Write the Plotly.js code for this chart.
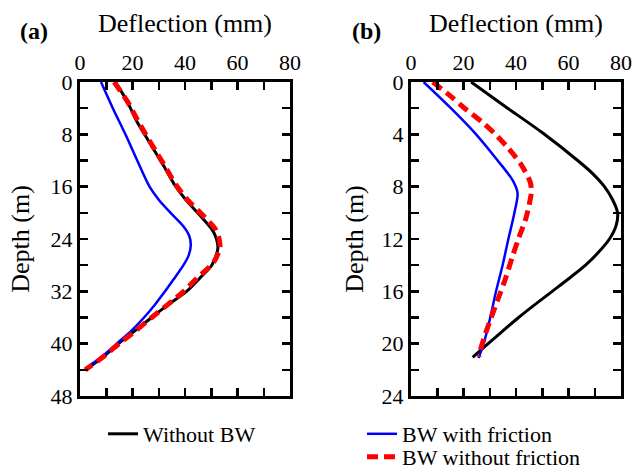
<!DOCTYPE html>
<html>
<head>
<meta charset="utf-8">
<script src="https://cdn.plot.ly/plotly-3.0.1.min.js"></script>
<style>html,body{margin:0;padding:0;background:#fff;}#chart{width:632px;height:471px;}</style>
</head>
<body>
<div id="chart"></div>
<script>
// Panel (a)
var depthA_noBW = [0, 3, 6, 8, 10.6, 13.1, 15.7, 18, 20.3, 22.5, 24, 25.5, 28, 29.7, 32, 34, 36, 38, 40, 42, 44];
var defA_noBW   = [13.5, 18, 21.6, 24.6, 28.5, 32.3, 36, 40.3, 45.5, 50.2, 52, 52.5, 50.2, 46.3, 40.6, 33.7, 27.3, 21, 14.6, 8.9, 2];
var depthA_fric = [0, 4, 8, 12, 16, 18, 20, 22, 23.5, 25, 26.5, 28, 30.2, 32, 34, 36, 38, 40, 42, 43.5, 44];
var defA_fric   = [8, 12.5, 17.3, 21.8, 26.5, 30, 34.5, 39.3, 41.6, 42.2, 41.4, 39.4, 35.6, 32.4, 28.6, 24.4, 19.6, 14, 8.3, 3.2, 1.9];
var depthA_noFric = [0, 3, 5.8, 8, 10.6, 13.1, 15.7, 18, 20.3, 22.5, 24, 25.3, 27.5, 30, 32, 34, 36, 37.9, 39.9, 41.8, 43.5, 44];
var defA_noFric   = [13, 18.1, 21.9, 25, 28.9, 32.7, 36.5, 40.9, 46.6, 51.6, 53, 53.3, 51, 44.5, 39.5, 33.5, 27.3, 21.6, 15.2, 9.5, 3.8, 2];
// Panel (b)
var depthB_noBW = [0, 2, 3.9, 6, 7, 8, 9, 10, 11, 12, 13, 14, 15, 16, 17, 18, 19, 20, 20.7, 21.05];
var defB_noBW   = [22.9, 36.8, 50.2, 63.5, 69.2, 73.7, 76.8, 78.7, 78.1, 75.6, 71.5, 66.5, 60.3, 53.8, 47.3, 41, 35.1, 29.4, 25.4, 23.5];
var depthB_fric = [0, 2, 4, 6, 7.5, 8.5, 10, 12, 14, 16, 18, 20, 21.1];
var defB_fric   = [4.8, 15.2, 24.8, 33, 38.7, 40.6, 39.4, 37.1, 34.9, 32.4, 30.2, 27.7, 25.7];
var depthB_noFric = [0, 1.1, 2.1, 3, 3.9, 5, 6.3, 7.7, 8.5, 9.1, 10.4, 12, 13.3, 14.9, 16.3, 17.7, 19.1, 20.5, 21];
var defB_noFric   = [8.3, 15.2, 21, 26.7, 31.7, 36.8, 41.9, 45.5, 45.8, 45.3, 43.8, 40.9, 38.7, 36.2, 33.7, 31.1, 28.6, 26.4, 25.8];

var names = ['Without BW', 'BW with friction', 'BW without friction'];
var xTitle = 'Deflection (mm)';
var yTitle = 'Depth (m)';
var panelLabels = ['(a)', '(b)'];
var xTicksA = [0, 20, 40, 60, 80];
var yTicksA = [0, 8, 16, 24, 32, 40, 48];
var yTicksB = [0, 4, 8, 12, 16, 20, 24];

var FONT = '"Liberation Serif", "Times New Roman", Times, serif';
var sBlack = {color: '#000000', width: 3, shape: 'spline', smoothing: 0.8};
var sBlue = {color: '#0000ff', width: 2.5, shape: 'spline', smoothing: 0.8};
var sRed = {color: '#ff0000', width: 5, dash: '11px,6px', shape: 'spline', smoothing: 0.8};

var traces = [
  {x: defA_noBW, y: depthA_noBW, xaxis: 'x', yaxis: 'y', mode: 'lines', line: sBlack, name: names[0], legend: 'legend'},
  {x: defA_fric, y: depthA_fric, xaxis: 'x', yaxis: 'y', mode: 'lines', line: sBlue, name: names[1], legend: 'legend2'},
  {x: defA_noFric, y: depthA_noFric, xaxis: 'x', yaxis: 'y', mode: 'lines', line: sRed, name: names[2], legend: 'legend3'},
  {x: defB_noBW, y: depthB_noBW, xaxis: 'x2', yaxis: 'y2', mode: 'lines', line: sBlack, name: names[0], showlegend: false},
  {x: defB_fric, y: depthB_fric, xaxis: 'x2', yaxis: 'y2', mode: 'lines', line: sBlue, name: names[1], showlegend: false},
  {x: defB_noFric, y: depthB_noFric, xaxis: 'x2', yaxis: 'y2', mode: 'lines', line: sRed, name: names[2], showlegend: false}
];

function xAx(domain, anchor) {
  return {
    domain: domain, anchor: anchor, side: 'top', range: [0, 80],
    tickmode: 'array', tickvals: xTicksA, ticktext: xTicksA.map(String),
    ticks: 'inside', ticklen: 8, tickwidth: 2.5, tickcolor: '#000',
    minor: {tickmode: 'linear', tick0: 0, dtick: 10, ticks: 'inside', ticklen: 8, tickwidth: 2.5, tickcolor: '#000', showgrid: false},
    showline: true, linewidth: 3, linecolor: '#000', mirror: 'allticks',
    showgrid: false, zeroline: false, automargin: false,
    tickfont: {family: FONT, size: 22, color: '#000'}
  };
}
function yAx(anchor, range, ticks, minorD, standoff) {
  return {
    domain: [75/471, 389/471], anchor: anchor, range: range,
    tickmode: 'array', tickvals: ticks, ticktext: ticks.map(String),
    ticks: 'inside', ticklen: 8, tickwidth: 2.5, tickcolor: '#000',
    minor: {tickmode: 'linear', tick0: 0, dtick: minorD, ticks: 'inside', ticklen: 8, tickwidth: 2.5, tickcolor: '#000', showgrid: false},
    showline: true, linewidth: 3, linecolor: '#000', mirror: 'allticks',
    showgrid: false, zeroline: false, automargin: false,
    tickfont: {family: FONT, size: 22, color: '#000'},
    title: {text: yTitle, font: {family: FONT, size: 26, color: '#000'}, standoff: standoff}
  };
}
function leg(xpx, ypx) {
  return {x: xpx/632, y: 1 - ypx/471, xanchor: 'left', yanchor: 'middle', bgcolor: 'rgba(0,0,0,0)',
          borderwidth: 0, font: {family: FONT, size: 22, color: '#000'}, tracegroupgap: 0};
}
function ann(text, xpx, ypx, size) {
  return {text: text, xref: 'paper', yref: 'paper', x: xpx/632, y: 1 - ypx/471, xanchor: 'center', yanchor: 'middle',
          showarrow: false, font: {family: FONT, size: size, color: '#000'}};
}

var layout = {
  width: 632, height: 471,
  margin: {l: 0, r: 0, t: 0, b: 0, pad: 0, autoexpand: false},
  paper_bgcolor: '#fff', plot_bgcolor: '#fff',
  font: {family: FONT, color: '#000'},
  xaxis: xAx([80/632, 290/632], 'y'),
  yaxis: yAx('x', [48, 0], yTicksA, 4, 14),
  xaxis2: xAx([411/632, 621/632], 'y2'),
  yaxis2: yAx('x2', [24, 0], yTicksB, 2, 11),
  legend: leg(103, 434),
  legend2: leg(362, 434),
  legend3: leg(362, 457),
  annotations: [
    ann('<b>' + panelLabels[0] + '</b>', 34, 31, 24),
    ann('<b>' + panelLabels[1] + '</b>', 366, 31, 24),
    ann(xTitle, 185, 24, 26),
    ann(xTitle, 516, 24, 26)
  ]
};

Plotly.newPlot('chart', traces, layout, {staticPlot: true, displayModeBar: false});
</script>
</body>
</html>
